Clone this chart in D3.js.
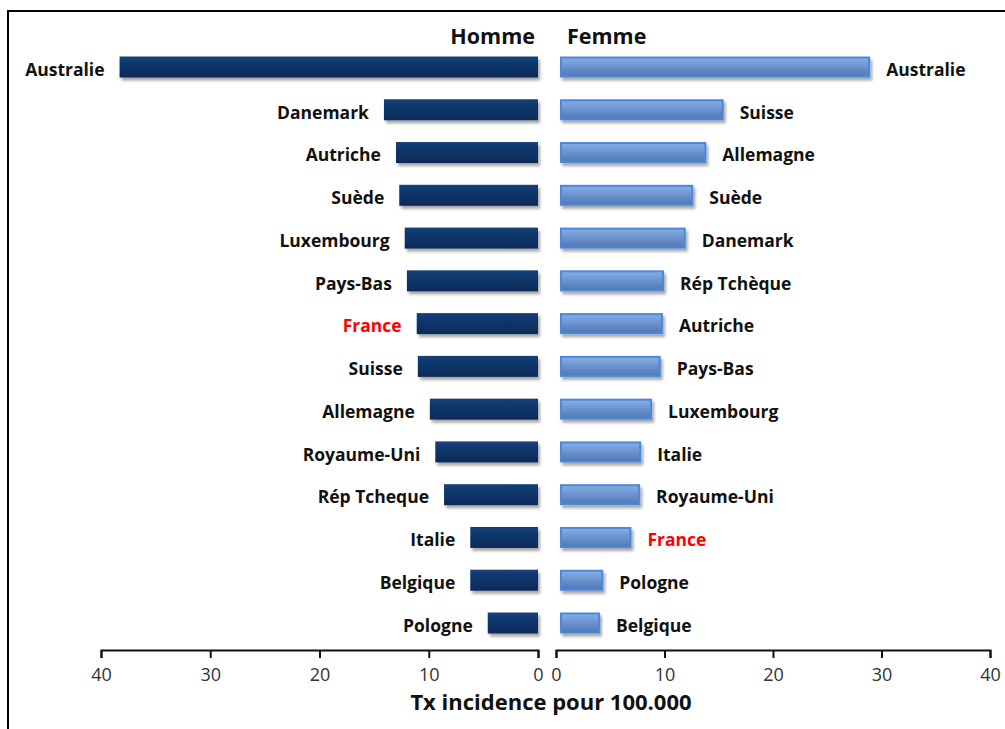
<!DOCTYPE html>
<html>
<head>
<meta charset="utf-8">
<script src="https://cdn.jsdelivr.net/npm/d3@7"></script>
<style>
  body { margin: 0; background: #fff; }
  svg { display: block; }
  .lbl { font-family: "Open Sans", sans-serif; font-weight: 700; font-size: 17.5px; fill: #111; }
  .axis text { font-family: "Open Sans", sans-serif; font-size: 18px; fill: #333; }
  .axis path, .axis line { stroke: #111; stroke-width: 2px; }
</style>
</head>
<body>
<div id="chart"></div>
<script>
// data, sorted as shown (top to bottom)
var hommePays = ['Australie', 'Danemark', 'Autriche', 'Suède', 'Luxembourg', 'Pays-Bas', 'France',
  'Suisse', 'Allemagne', 'Royaume-Uni', 'Rép Tcheque', 'Italie', 'Belgique', 'Pologne'];
var hommeVal = [38.3, 14.1, 13.0, 12.7, 12.2, 12.0, 11.1, 11.0, 9.9, 9.4, 8.6, 6.2, 6.2, 4.6];

var femmePays = ['Australie', 'Suisse', 'Allemagne', 'Suède', 'Danemark', 'Rép Tchèque', 'Autriche',
  'Pays-Bas', 'Luxembourg', 'Italie', 'Royaume-Uni', 'France', 'Pologne', 'Belgique'];
var femmeVal = [28.4, 14.9, 13.3, 12.1, 11.4, 9.4, 9.3, 9.1, 8.3, 7.3, 7.2, 6.4, 3.8, 3.5];

var axisTicks = [0, 10, 20, 30, 40];

var width = 1005, height = 729;

var svg = d3.select('#chart').append('svg')
  .attr('width', width)
  .attr('height', height);

var defs = svg.append('defs');
var gM = defs.append('linearGradient').attr('id', 'gradM').attr('x1', 0).attr('y1', 0).attr('x2', 0).attr('y2', 1);
gM.append('stop').attr('offset', '0%').attr('stop-color', '#133f78');
gM.append('stop').attr('offset', '100%').attr('stop-color', '#0b2a58');
var gF = defs.append('linearGradient').attr('id', 'gradF').attr('x1', 0).attr('y1', 0).attr('x2', 0).attr('y2', 1);
gF.append('stop').attr('offset', '0%').attr('stop-color', '#86aee6');
gF.append('stop').attr('offset', '100%').attr('stop-color', '#5077b4');
var sh = defs.append('filter').attr('id', 'shadow').attr('x', '-5%').attr('y', '-30%').attr('width', '115%').attr('height', '180%');
sh.append('feDropShadow').attr('dx', 2).attr('dy', 3).attr('stdDeviation', 1.6)
  .attr('flood-color', '#000').attr('flood-opacity', 0.35);

// frame
svg.append('rect')
  .attr('x', 8).attr('y', 11)
  .attr('width', 1010).attr('height', 730)
  .attr('fill', 'none').attr('stroke', '#000').attr('stroke-width', 2);

var xM = d3.scaleLinear().domain([0, 40]).range([538, 101]);
var xF = d3.scaleLinear().domain([0, 40]).range([556, 990]);
var y = d3.scalePoint().domain(d3.range(hommePays.length)).range([67, 623]);
var barH = 21;
var gapF = 5; // female bars start a little right of the axis origin
var axisY = 650;

// headers
svg.append('text').attr('class', 'lbl').attr('x', 535).attr('y', 44)
  .attr('text-anchor', 'end').style('font-size', '21.5px').text('Homme');
svg.append('text').attr('class', 'lbl').attr('x', 567).attr('y', 44)
  .style('font-size', '21.5px').text('Femme');

// homme bars
var hm = svg.append('g').selectAll('g')
  .data(hommeVal.map(function(v, i) { return { pays: hommePays[i], val: v, i: i }; }))
  .enter().append('g');

hm.append('rect')
  .attr('x', function(d) { return xM(d.val); })
  .attr('y', function(d) { return y(d.i) - barH / 2; })
  .attr('width', function(d) { return xM(0) - xM(d.val); })
  .attr('height', barH)
  .attr('fill', 'url(#gradM)')
  .attr('filter', 'url(#shadow)');

hm.append('text')
  .attr('class', 'lbl')
  .attr('x', function(d) { return xM(d.val) - 15; })
  .attr('y', function(d) { return y(d.i); })
  .attr('dy', '0.5em')
  .attr('text-anchor', 'end')
  .style('fill', function(d) { return d.pays === 'France' ? '#ff0000' : null; })
  .text(function(d) { return d.pays; });

// femme bars
var fm = svg.append('g').selectAll('g')
  .data(femmeVal.map(function(v, i) { return { pays: femmePays[i], val: v, i: i }; }))
  .enter().append('g');

fm.append('rect')
  .attr('x', xF(0) + gapF)
  .attr('y', function(d) { return y(d.i) - barH / 2 + 1; })
  .attr('width', function(d) { return xF(d.val) - xF(0); })
  .attr('height', barH - 2)
  .attr('fill', 'url(#gradF)')
  .attr('stroke', '#4a88dc')
  .attr('stroke-width', 2)
  .attr('filter', 'url(#shadow)');

fm.append('text')
  .attr('class', 'lbl')
  .attr('x', function(d) { return xF(d.val) + gapF + 17; })
  .attr('y', function(d) { return y(d.i); })
  .attr('dy', '0.5em')
  .style('fill', function(d) { return d.pays === 'France' ? '#ff0000' : null; })
  .text(function(d) { return d.pays; });

// axes
svg.append('g').attr('class', 'axis')
  .attr('transform', 'translate(0,' + axisY + ')')
  .call(d3.axisBottom(xM).tickValues(axisTicks).tickSize(8).tickPadding(10).tickFormat(d3.format('d')));
svg.append('g').attr('class', 'axis')
  .attr('transform', 'translate(0,' + axisY + ')')
  .call(d3.axisBottom(xF).tickValues(axisTicks).tickSize(8).tickPadding(10).tickFormat(d3.format('d')));

svg.append('text').attr('class', 'lbl')
  .attr('x', 551).attr('y', 710)
  .attr('text-anchor', 'middle')
  .style('font-size', '22px')
  .text('Tx incidence pour 100.000');
</script>
</body>
</html>
